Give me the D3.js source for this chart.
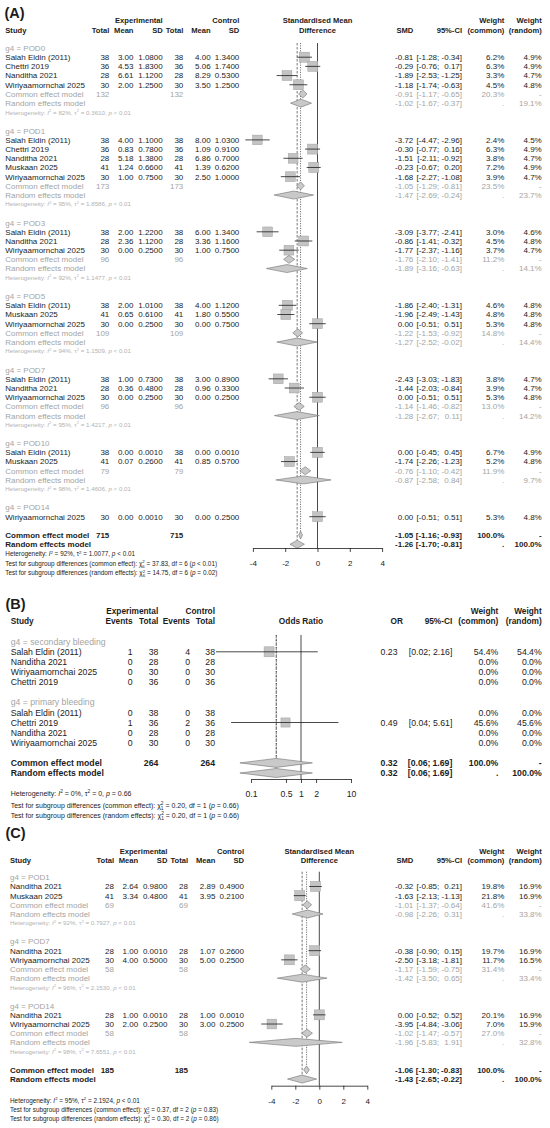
<!DOCTYPE html>
<html><head><meta charset="utf-8">
<script src="https://cdn.jsdelivr.net/npm/d3@7"></script>
<style>body{margin:0;background:#fff} svg text{font-family:"Liberation Sans",Arial,sans-serif}</style>
</head><body><svg id="c" width="550" height="1128"></svg>
<script>
// ================= DATA =================
// Panel A (SMD) study rows: [study, nE, meanE, sdE, nC, meanC, sdC, SMD, lower, upper, wCommon, wRandom]
const A_groups = ["POD0","POD1","POD3","POD5","POD7","POD10","POD14"];
const A_POD0 = [
 ["Salah Eldin (2011)",38,3.00,1.08,38,4.00,1.34,-0.81,-1.28,-0.34,6.2,4.9],
 ["Chettri 2019",36,4.53,1.83,36,5.06,1.74,-0.29,-0.76,0.17,6.3,4.9],
 ["Nanditha 2021",28,6.61,1.12,28,8.29,0.53,-1.89,-2.53,-1.25,3.3,4.7],
 ["Wiriyaamornchai 2025",30,2.00,1.25,30,3.50,1.25,-1.18,-1.74,-0.63,4.5,4.8]];
const A_POD1 = [
 ["Salah Eldin (2011)",38,4.00,1.10,38,8.00,1.03,-3.72,-4.47,-2.96,2.4,4.5],
 ["Chettri 2019",36,0.83,0.78,36,1.09,0.91,-0.30,-0.77,0.16,6.3,4.9],
 ["Nanditha 2021",28,5.18,1.38,28,6.86,0.70,-1.51,-2.11,-0.92,3.8,4.7],
 ["Muskaan 2025",41,1.24,0.66,41,1.39,0.62,-0.23,-0.67,0.20,7.2,4.9],
 ["Wiriyaamornchai 2025",30,1.00,0.75,30,2.50,1.00,-1.68,-2.27,-1.08,3.9,4.7]];
const A_POD3 = [
 ["Salah Eldin (2011)",38,2.00,1.22,38,6.00,1.34,-3.09,-3.77,-2.41,3.0,4.6],
 ["Nanditha 2021",28,2.36,1.12,28,3.36,1.16,-0.86,-1.41,-0.32,4.5,4.8],
 ["Wiriyaamornchai 2025",30,0.00,0.25,30,1.00,0.75,-1.77,-2.37,-1.16,3.7,4.7]];
const A_POD5 = [
 ["Salah Eldin (2011)",38,2.00,1.01,38,4.00,1.12,-1.86,-2.40,-1.31,4.6,4.8],
 ["Muskaan 2025",41,0.65,0.61,41,1.80,0.55,-1.96,-2.49,-1.43,4.8,4.8],
 ["Wiriyaamornchai 2025",30,0.00,0.25,30,0.00,0.75,0.00,-0.51,0.51,5.3,4.8]];
const A_POD7 = [
 ["Salah Eldin (2011)",38,1.00,0.73,38,3.00,0.89,-2.43,-3.03,-1.83,3.8,4.7],
 ["Nanditha 2021",28,0.36,0.48,28,0.96,0.33,-1.44,-2.03,-0.84,3.9,4.7],
 ["Wiriyaamornchai 2025",30,0.00,0.25,30,0.00,0.25,0.00,-0.51,0.51,5.3,4.8]];
const A_POD10 = [
 ["Salah Eldin (2011)",38,0.00,0.001,38,0.00,0.001,0.00,-0.45,0.45,6.7,4.9],
 ["Muskaan 2025",41,0.07,0.26,41,0.85,0.57,-1.74,-2.26,-1.23,5.2,4.8]];
const A_POD14 = [
 ["Wiriyaamornchai 2025",30,0.00,0.001,30,0.00,0.25,0.00,-0.51,0.51,5.3,4.8]];
// subgroup summaries: [nE, nC, commonEst, lo, hi, wCommon, randomEst, lo, hi, wRandom, I2, tau2, p]
const A_sub = [
 [132,132,-0.91,-1.17,-0.65,20.3,-1.02,-1.67,-0.37,19.1,82,"0.3610","< 0.01"],
 [173,173,-1.05,-1.29,-0.81,23.5,-1.47,-2.69,-0.24,23.7,95,"1.8586","< 0.01"],
 [96,96,-1.76,-2.10,-1.41,11.2,-1.89,-3.16,-0.63,14.1,92,"1.1477","< 0.01"],
 [109,109,-1.22,-1.53,-0.92,14.8,-1.27,-2.52,-0.02,14.4,94,"1.1509","< 0.01"],
 [96,96,-1.14,-1.46,-0.82,13.0,-1.28,-2.67,0.11,14.2,95,"1.4217","< 0.01"],
 [79,79,-0.76,-1.10,-0.42,11.9,-0.87,-2.58,0.84,9.7,98,"1.4606","< 0.01"],
 null];
// overall: [nE, nC, commonEst, lo, hi, randomEst, lo, hi]
const A_overall = [715,715,-1.05,-1.16,-0.93,-1.26,-1.70,-0.81];
const A_het = [92,"1.0077","< 0.01"];
const A_tests = [["37.83",6,"< 0.01"],["14.75",6,"= 0.02"]];
const A_ticks = [-4,-2,0,2,4];

// Panel B (OR) study rows: [study, eventsE, totalE, eventsC, totalC, OR, lower, upper, wCommon, wRandom]
const B_groups = ["secondary bleeding","primary bleeding"];
const B_secondary = [
 ["Salah Eldin (2011)",1,38,4,38,0.23,0.02,2.16,54.4,54.4],
 ["Nanditha 2021",0,28,0,28,null,null,null,0.0,0.0],
 ["Wiriyaamornchai 2025",0,30,0,30,null,null,null,0.0,0.0],
 ["Chettri 2019",0,36,0,36,null,null,null,0.0,0.0]];
const B_primary = [
 ["Salah Eldin (2011)",0,38,0,38,null,null,null,0.0,0.0],
 ["Chettri 2019",1,36,2,36,0.49,0.04,5.61,45.6,45.6],
 ["Nanditha 2021",0,28,0,28,null,null,null,0.0,0.0],
 ["Wiriyaamornchai 2025",0,30,0,30,null,null,null,0.0,0.0]];
const B_overall = [264,264,0.32,0.06,1.69,0.32,0.06,1.69];
const B_het = [0,"0","= 0.66"];
const B_tests = [["0.20",1,"= 0.66"],["0.20",1,"= 0.66"]];
const B_ticks = [0.1,0.5,1,2,10];

// Panel C (SMD)
const C_groups = ["POD1","POD7","POD14"];
const C_POD1 = [
 ["Nanditha 2021",28,2.64,0.98,28,2.89,0.49,-0.32,-0.85,0.21,19.8,16.9],
 ["Muskaan 2025",41,3.34,0.48,41,3.95,0.21,-1.63,-2.13,-1.13,21.8,16.9]];
const C_POD7 = [
 ["Nanditha 2021",28,1.00,0.001,28,1.07,0.26,-0.38,-0.90,0.15,19.7,16.9],
 ["Wiriyaamornchai 2025",30,4.00,0.50,30,5.00,0.25,-2.50,-3.18,-1.81,11.7,16.5]];
const C_POD14 = [
 ["Nanditha 2021",28,1.00,0.001,28,1.00,0.001,0.00,-0.52,0.52,20.1,16.9],
 ["Wiriyaamornchai 2025",30,2.00,0.25,30,3.00,0.25,-3.95,-4.84,-3.06,7.0,15.9]];
const C_sub = [
 [69,69,-1.01,-1.37,-0.64,41.6,-0.98,-2.26,0.31,33.8,92,"0.7927","< 0.01"],
 [58,58,-1.17,-1.59,-0.75,31.4,-1.42,-3.50,0.65,33.4,96,"2.1530","< 0.01"],
 [58,58,-1.02,-1.47,-0.57,27.0,-1.96,-5.83,1.91,32.8,98,"7.6551","< 0.01"]];
const C_overall = [185,185,-1.06,-1.30,-0.83,-1.43,-2.65,-0.22];
const C_het = [95,"2.1924","< 0.01"];
const C_tests = [["0.37",2,"= 0.83"],["0.30",2,"= 0.86"]];
const C_ticks = [-4,-2,0,2,4];

// ================= DRAWING =================
const svg = d3.select("#c");
const BLACK="#1c1c1c", GREY="#a4a4a4", LGREY="#b2b2b2";
const SQ_FILL="#c3c3c3", SQ_STROKE="#a0a0a0", DI_FILL="#c9c9c9", DI_STROKE="#707070";
const loc = d3.formatLocale({decimal:".",thousands:",",grouping:[3],currency:["",""],minus:"-"});
const f2=loc.format(".2f"), f4=loc.format(".4f"), f1=loc.format(".1f");
const pct = v => f1(v)+"%";

function mkT(g){
  return (xx,yy,s,o={}) => g.append("text").attr("x",xx).attr("y",yy)
    .attr("text-anchor",o.a||"end").attr("font-size",o.fs)
    .attr("font-weight",o.b?"bold":null).attr("fill",o.c||BLACK).text(s);
}
function rich(g,x,y,segs,size,color){
  const t=g.append("text").attr("x",x).attr("y",y).attr("font-size",size).attr("fill",color);
  let cur=0;
  segs.forEach(s=>{
    const sp=t.append("tspan").text(s.t);
    const target = s.sup ? -size*0.42 : (s.sub ? size*0.3 : 0);
    if(target!==cur){ sp.attr("dy",target-cur); cur=target; }
    if(s.sup||s.sub) sp.attr("font-size",size*0.68);
    if(s.it) sp.attr("font-style","italic");
    if(s.dx) sp.attr("dx",s.dx);
  });
}
const hetSegs=(I2,tau2,p)=>[{t:"Heterogeneity: "},{t:"I",it:1},{t:"2",sup:1},{t:" = "+I2+"%, "},{t:"τ"},{t:"2",sup:1},{t:" = "+tau2+", "},{t:"p",it:1},{t:" "+p}];
const testSegs=(kind,chi,df,p,size)=>[{t:"Test for subgroup differences ("+kind+"): "},{t:"χ"},{t:"2",sup:1},{t:String(df),sub:1,dx:-size*0.68*0.556},{t:" = "+chi+", df = "+df+" ("},{t:"p",it:1},{t:" "+p+")"}];

function diamond(g,x,est,lo,hi,yc,hh){
  g.append("path").attr("d",`M${x(lo)},${yc}L${x(est)},${yc-hh}L${x(hi)},${yc}L${x(est)},${yc+hh}Z`)
   .attr("fill",DI_FILL).attr("stroke",DI_STROKE).attr("stroke-width",0.6);
}
function studyMark(g,x,est,lo,hi,yc,side){
  g.append("rect").attr("x",x(est)-side/2).attr("y",yc-side/2).attr("width",side).attr("height",side)
   .attr("fill",SQ_FILL).attr("stroke",SQ_STROKE).attr("stroke-width",0.5);
  g.append("line").attr("x1",x(lo)).attr("x2",x(hi)).attr("y1",yc).attr("y2",yc)
   .attr("stroke",BLACK).attr("stroke-width",0.8);
}
function ciText(T,L,lo,hi,fmt,o){
  T(L.ciLoX,0,"",{});
}

function drawCont(L,label,groups,studies,subs,overall,het,tests,ticks){
  const g=svg.append("g"), lines=g.append("g"), marks=g.append("g");
  const T=mkT(g);
  const fs=8, hs=7.6, off=2.9;
  const x=d3.scaleLinear().domain([-4,4]).range(L.xr);
  T(L.titleX,L.titleY,label,{a:"start",fs:14.5,b:1});
  T(L.cols[2],L.hY1,"Experimental",{b:1,fs:hs});
  T(L.cols[5],L.hY1,"Control",{b:1,fs:hs});
  T(L.nameX,L.hY2,"Study",{a:"start",b:1,fs:hs});
  ["Total","Mean","SD","Total","Mean","SD"].forEach((h,i)=>T(L.cols[i],L.hY2,h,{b:1,fs:hs}));
  T(x(0),L.hY1,"Standardised Mean",{a:"middle",b:1,fs:hs});
  T(x(0),L.hY2,"Difference",{a:"middle",b:1,fs:hs});
  T(L.smdX,L.hY2,"SMD",{b:1,fs:hs});
  T(L.ciHiX,L.hY2,"95%-CI",{b:1,fs:hs});
  T(L.wcX,L.hY1,"Weight",{b:1,fs:hs}); T(L.wcX,L.hY2,"(common)",{b:1,fs:hs});
  T(L.wrX,L.hY1,"Weight",{b:1,fs:hs}); T(L.wrX,L.hY2,"(random)",{b:1,fs:hs});
  const Y=r=>L.y0+r*L.h;
  const maxW=d3.max(studies.flat(),d=>d[11]);
  const est=(yy,e,lo,hi,wc,wr,o)=>{
    T(L.smdX,yy,f2(e),o); T(L.ciLoX,yy,"["+f2(lo)+";",o); T(L.ciHiX,yy,f2(hi)+"]",o);
    T(L.wcX,yy,wc,o); T(L.wrX,yy,wr,o);
  };
  let r=0;
  groups.forEach((gn,i)=>{
    T(L.nameX,Y(r)+off,"g4 = "+gn,{a:"start",fs:fs,c:GREY}); r++;
    studies[i].forEach(d=>{
      const yy=Y(r)+off;
      T(L.nameX,yy,d[0],{a:"start",fs:fs});
      [d[1],f2(d[2]),f4(d[3]),d[4],f2(d[5]),f4(d[6])].forEach((v,k)=>T(L.cols[k],yy,v,{fs:fs}));
      est(yy,d[7],d[8],d[9],pct(d[10]),pct(d[11]),{fs:fs});
      studyMark(marks,x,d[7],d[8],d[9],Y(r),L.sq*Math.sqrt(d[11]/maxW));
      r++;
    });
    const s=subs[i];
    if(s){
      let yy=Y(r)+off, o={fs:fs,c:GREY};
      T(L.nameX,yy,"Common effect model",{a:"start",fs:fs,c:GREY});
      T(L.cols[0],yy,s[0],o); T(L.cols[3],yy,s[1],o);
      est(yy,s[2],s[3],s[4],pct(s[5]),"-",o);
      diamond(marks,x,s[2],s[3],s[4],Y(r),L.dh); r++;
      yy=Y(r)+off;
      T(L.nameX,yy,"Random effects model",{a:"start",fs:fs,c:GREY});
      est(yy,s[6],s[7],s[8],".",pct(s[9]),o);
      diamond(marks,x,s[6],s[7],s[8],Y(r),L.dh); r++;
      rich(g,L.nameX,Y(r)+2.2,hetSegs(s[10],s[11],s[12]),6.2,LGREY); r++;
    }
    r++;
  });
  // overall
  const rc=r, rr=r+1, ob={fs:fs,b:1};
  T(L.nameX,Y(rc)+off,"Common effect model",{a:"start",fs:fs,b:1});
  T(L.nameX,Y(rr)+off,"Random effects model",{a:"start",fs:fs,b:1});
  T(L.cols[0],Y(rc)+off,overall[0],ob); T(L.cols[3],Y(rc)+off,overall[1],ob);
  est(Y(rc)+off,overall[2],overall[3],overall[4],"100.0%","-",ob);
  est(Y(rr)+off,overall[5],overall[6],overall[7],".","100.0%",ob);
  diamond(marks,x,overall[2],overall[3],overall[4],Y(rc),L.dh);
  diamond(marks,x,overall[5],overall[6],overall[7],Y(rr),L.dh);
  // reference lines
  lines.append("line").attr("x1",x(0)).attr("x2",x(0)).attr("y1",L.lineTop).attr("y2",L.axisY).attr("stroke",BLACK).attr("stroke-width",0.8);
  lines.append("line").attr("x1",x(overall[2])).attr("x2",x(overall[2])).attr("y1",L.lineTop).attr("y2",Y(rc)-L.dh)
    .attr("stroke",BLACK).attr("stroke-width",0.6).attr("stroke-dasharray","1.2,1.2");
  lines.append("line").attr("x1",x(overall[5])).attr("x2",x(overall[5])).attr("y1",L.lineTop).attr("y2",Y(rr)-L.dh)
    .attr("stroke",BLACK).attr("stroke-width",0.6).attr("stroke-dasharray","2.5,1.5");
  // axis
  const ax=g.append("g").attr("transform",`translate(0,${L.axisY})`)
    .call(d3.axisBottom(x).tickValues(ticks).tickSize(4).tickSizeOuter(0).tickPadding(8.2).tickFormat(loc.format("d")));
  ax.attr("font-family",null).attr("font-size",8);
  ax.selectAll("path,line").attr("stroke",BLACK).attr("stroke-width",0.8);
  ax.selectAll("text").attr("fill",BLACK);
  // heterogeneity + tests
  rich(g,L.nameX,L.hetY[0],hetSegs(het[0],het[1],het[2]),6.4,BLACK);
  rich(g,L.nameX,L.hetY[1],testSegs("common effect",tests[0][0],tests[0][1],tests[0][2],6.4),6.4,BLACK);
  rich(g,L.nameX,L.hetY[2],testSegs("random effects",tests[1][0],tests[1][1],tests[1][2],6.4),6.4,BLACK);
}

function drawBin(L,label,groups,studies,overall,het,tests,ticks){
  const g=svg.append("g"), lines=g.append("g"), marks=g.append("g");
  const T=mkT(g);
  const fs=8.7, hs=8.3, off=3.1;
  const x=d3.scaleLog().domain([0.1,10]).range(L.xr);
  T(L.titleX,L.titleY,label,{a:"start",fs:14.5,b:1});
  T(L.cols[1],L.hY1,"Experimental",{b:1,fs:hs});
  T(L.cols[3],L.hY1,"Control",{b:1,fs:hs});
  T(L.nameX,L.hY2,"Study",{a:"start",b:1,fs:hs});
  ["Events","Total","Events","Total"].forEach((h,i)=>T(L.cols[i],L.hY2,h,{b:1,fs:hs}));
  T(x(1),L.hY2,"Odds Ratio",{a:"middle",b:1,fs:hs});
  T(L.orHX,L.hY2,"OR",{b:1,fs:hs});
  T(L.ciHiX,L.hY2,"95%-CI",{b:1,fs:hs});
  T(L.wcX,L.hY1,"Weight",{b:1,fs:hs}); T(L.wcX,L.hY2,"(common)",{b:1,fs:hs});
  T(L.wrX,L.hY1,"Weight",{b:1,fs:hs}); T(L.wrX,L.hY2,"(random)",{b:1,fs:hs});
  const Y=r=>L.y0+r*L.h;
  const maxW=d3.max(studies.flat(),d=>d[9]);
  const fe=v=>f2(v);
  const est=(yy,e,lo,hi,o)=>{ T(L.orX,yy,fe(e),o); T(L.ciLoX,yy,"["+fe(lo)+";",o); T(L.ciHiX,yy,fe(hi)+"]",o); };
  let r=0;
  groups.forEach((gn,i)=>{
    T(L.nameX,Y(r)+off,"g4 = "+gn,{a:"start",fs:fs,c:GREY}); r++;
    studies[i].forEach(d=>{
      const yy=Y(r)+off, o={fs:fs};
      T(L.nameX,yy,d[0],{a:"start",fs:fs});
      [d[1],d[2],d[3],d[4]].forEach((v,k)=>T(L.cols[k],yy,v,o));
      if(d[5]!=null){ est(yy,d[5],d[6],d[7],o); studyMark(marks,x,d[5],d[6],d[7],Y(r),L.sq*Math.sqrt(d[9]/maxW)); }
      T(L.wcX,yy,pct(d[8]),o); T(L.wrX,yy,pct(d[9]),o);
      r++;
    });
    r++;
  });
  const rc=r, rr=r+1, ob={fs:fs,b:1};
  T(L.nameX,Y(rc)+off,"Common effect model",{a:"start",fs:fs,b:1});
  T(L.nameX,Y(rr)+off,"Random effects model",{a:"start",fs:fs,b:1});
  T(L.cols[1],Y(rc)+off,overall[0],ob); T(L.cols[3],Y(rc)+off,overall[1],ob);
  est(Y(rc)+off,overall[2],overall[3],overall[4],ob); T(L.wcX,Y(rc)+off,"100.0%",ob); T(L.wrX,Y(rc)+off,"-",ob);
  est(Y(rr)+off,overall[5],overall[6],overall[7],ob); T(L.wcX,Y(rr)+off,".",ob); T(L.wrX,Y(rr)+off,"100.0%",ob);
  diamond(marks,x,overall[2],overall[3],overall[4],Y(rc),L.dh);
  diamond(marks,x,overall[5],overall[6],overall[7],Y(rr),L.dh);
  lines.append("line").attr("x1",x(1)).attr("x2",x(1)).attr("y1",L.lineTop).attr("y2",L.axisY).attr("stroke",BLACK).attr("stroke-width",0.8);
  lines.append("line").attr("x1",x(overall[2])).attr("x2",x(overall[2])).attr("y1",L.lineTop).attr("y2",Y(rc)-L.dh)
    .attr("stroke",BLACK).attr("stroke-width",0.6).attr("stroke-dasharray","1.2,1.2");
  lines.append("line").attr("x1",x(overall[5])).attr("x2",x(overall[5])).attr("y1",L.lineTop).attr("y2",Y(rr)-L.dh)
    .attr("stroke",BLACK).attr("stroke-width",0.6).attr("stroke-dasharray","2.5,1.5");
  const ax=g.append("g").attr("transform",`translate(0,${L.axisY})`)
    .call(d3.axisBottom(x).tickValues(ticks).tickSize(4).tickSizeOuter(0).tickPadding(7.5).tickFormat(d=>String(d)));
  ax.attr("font-family",null).attr("font-size",8.7);
  ax.selectAll("path,line").attr("stroke",BLACK).attr("stroke-width",0.8);
  ax.selectAll("text").attr("fill",BLACK);
  rich(g,L.nameX,L.hetY[0],hetSegs(het[0],het[1],het[2]),7,BLACK);
  rich(g,L.nameX,L.hetY[1],testSegs("common effect",tests[0][0],tests[0][1],tests[0][2],7),7,BLACK);
  rich(g,L.nameX,L.hetY[2],testSegs("random effects",tests[1][0],tests[1][1],tests[1][2],7),7,BLACK);
}

// layouts
const LA={titleX:4.5,titleY:17.8,nameX:5.3,cols:[109.3,133.5,162.7,183.3,210.7,239.3],hY1:23,hY2:33,
  y0:48,h:9.19,xr:[252.9,382.1],lineTop:43,axisY:548,hetY:[556.3,565.8,575.2],
  smdX:413.3,ciLoX:439.3,ciHiX:462,wcX:504.3,wrX:541.7,sq:10,dh:4};
const LB={titleX:5.5,titleY:609,nameX:10.7,cols:[132.7,158.3,190,215],hY1:613.5,hY2:624,
  y0:641.7,h:10.1,xr:[251,351],lineTop:635,axisY:779,hetY:[795.5,807.5,817.8],
  orX:397.5,orHX:403,ciLoX:430.5,ciHiX:452.3,wcX:498.3,wrX:541.7,sq:10,dh:4.5};
const LC={titleX:5.5,titleY:837.7,nameX:10,cols:[114,138.2,167.4,188,215.4,244],hY1:853.5,hY2:863,
  y0:877.3,h:9.17,xr:[271.3,367.3],lineTop:871.7,axisY:1085.7,hetY:[1102.6,1112.4,1121],
  smdX:413.3,ciLoX:439.3,ciHiX:462,wcX:504.3,wrX:541.7,sq:10,dh:4};

drawCont(LA,"(A)",A_groups,[A_POD0,A_POD1,A_POD3,A_POD5,A_POD7,A_POD10,A_POD14],A_sub,A_overall,A_het,A_tests,A_ticks);
drawBin(LB,"(B)",B_groups,[B_secondary,B_primary],B_overall,B_het,B_tests,B_ticks);
drawCont(LC,"(C)",C_groups,[C_POD1,C_POD7,C_POD14],C_sub,C_overall,C_het,C_tests,C_ticks);
</script></body></html>
